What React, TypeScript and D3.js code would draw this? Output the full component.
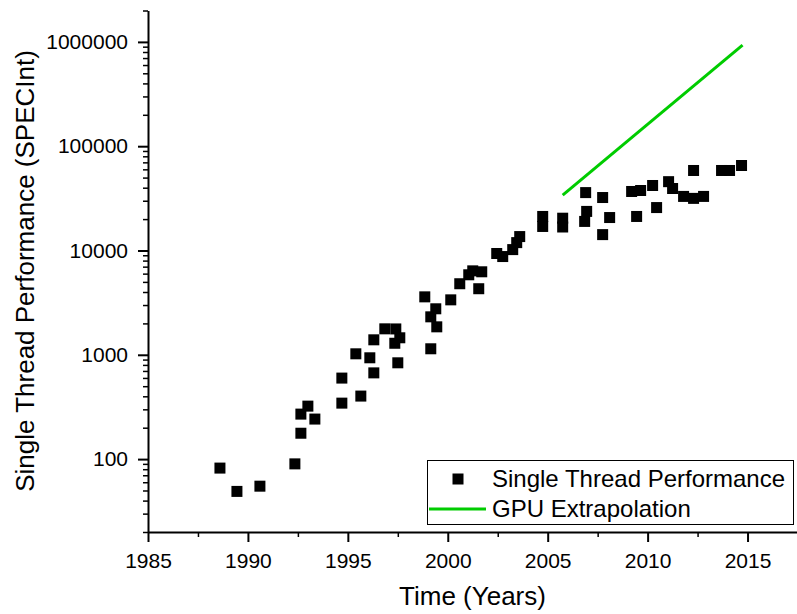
import * as d3 from "d3";
import React, { useEffect, useRef } from "react";

// single thread performance (SPECInt)
const years = [
	1988.6, 1989.45, 1990.6, 1992.35, 1992.65, 1992.65, 1993.0, 1993.35, 1994.7, 1994.7,
	1995.65, 1995.4, 1996.1, 1996.3, 1996.3, 1996.85, 1997.35, 1997.4, 1997.6, 1997.5,
	1998.85, 1999.4, 1999.15, 1999.45, 1999.15, 2000.15, 2000.6, 2001.05, 2001.25, 2001.55,
	2001.7, 2002.45, 2002.75, 2003.25, 2003.45, 2003.6, 2004.75, 2004.75, 2005.75, 2005.75,
	2006.9, 2006.95, 2006.85, 2007.75, 2007.75, 2008.1, 2009.2, 2009.65, 2009.45, 2010.25,
	2010.45, 2011.05, 2011.25, 2011.8, 2012.3, 2012.3, 2012.8, 2013.7, 2014.1, 2014.7,
];
const perf = [
	82, 49, 55, 90, 177, 270, 322, 242, 344, 598,
	402, 1022, 936, 671, 1392, 1774, 1290, 1770, 1456, 838,
	3594, 2761, 2312, 1854, 1142, 3364, 4800, 5850, 6380, 4300,
	6250, 9360, 8750, 10200, 11900, 13600, 21200, 17000, 20400, 16800,
	35900, 23700, 19000, 32200, 14200, 20700, 36800, 37600, 21200, 42000,
	25800, 45700, 39300, 33000, 31600, 58500, 33000, 58500, 58500, 65300,
];

// GPU extrapolation line
const gpuYears = [2005.75, 2014.75];
const gpuPerf = [34000, 930000];

const xTicks = [1985, 1990, 1995, 2000, 2005, 2010, 2015];
const xMinorTicks = [1987.5, 1992.5, 1997.5, 2002.5, 2007.5, 2012.5, 2017.5];
const yTicks = [100, 1000, 10000, 100000, 1000000];

const W = 797,
	H = 614;
const FONT = "'Liberation Sans', Arial, sans-serif";

const App = (): JSX.Element => {
	const svgRef = useRef<SVGSVGElement>(null);

	useEffect(() => {
		const svg = d3.select(svgRef.current);
		const g = svg.append("g");

		const x = d3.scaleLinear().domain([1985, 2017.5]).range([148, 797.5]);
		const y = d3.scaleLog().domain([20, 2e6]).range([532, 10.5]);

		// minor log ticks 2..9 per decade
		const yMinor: number[] = [];
		for (let p = 1; p <= 6; p++)
			for (let m = 2; m <= 9; m++) {
				const v = m * Math.pow(10, p);
				if (v >= 20 && v <= 2e6) yMinor.push(v);
			}

		// Y axis
		const yAx = g
			.append("g")
			.attr("transform", "translate(148,0)")
			.call(
				d3
					.axisLeft(y)
					.tickValues(yTicks)
					.tickSize(10)
					.tickSizeOuter(0)
					.tickPadding(10)
					.tickFormat((d) => String(d))
			);
		yAx.selectAll("text").attr("font-size", 21).attr("font-family", FONT).attr("fill", "#000");
		yAx.selectAll("line").attr("stroke-width", 2);
		yAx.select(".domain").attr("stroke-width", 2);
		g.append("g")
			.attr("transform", "translate(148,0)")
			.call(d3.axisLeft(y).tickValues(yMinor).tickSize(5).tickSizeOuter(0).tickFormat(() => ""))
			.call((a) => a.select(".domain").remove())
			.selectAll("line")
			.attr("stroke-width", 1.5);

		// X axis
		const xAx = g
			.append("g")
			.attr("transform", "translate(0,532)")
			.call(
				d3
					.axisBottom(x)
					.tickValues(xTicks)
					.tickSize(10)
					.tickSizeOuter(0)
					.tickPadding(11)
					.tickFormat((d) => String(d))
			);
		xAx.selectAll("text").attr("font-size", 21).attr("font-family", FONT).attr("fill", "#000");
		xAx.selectAll("line").attr("stroke-width", 2);
		xAx.select(".domain").attr("stroke-width", 2);
		g.append("g")
			.attr("transform", "translate(0,532)")
			.call(d3.axisBottom(x).tickValues(xMinorTicks).tickSize(5).tickSizeOuter(0).tickFormat(() => ""))
			.call((a) => a.select(".domain").remove())
			.selectAll("line")
			.attr("stroke-width", 1.5);

		// axis titles
		g.append("text")
			.attr("x", 472.5)
			.attr("y", 605)
			.attr("text-anchor", "middle")
			.attr("font-family", FONT)
			.attr("font-size", 26)
			.text("Time (Years)");
		g.append("text")
			.attr("transform", "translate(34,271) rotate(-90)")
			.attr("text-anchor", "middle")
			.attr("font-family", FONT)
			.attr("font-size", 26)
			.text("Single Thread Performance (SPECInt)");

		// GPU extrapolation
		const line = d3
			.line<number>()
			.x((d) => x(d))
			.y((_, i) => y(gpuPerf[i]));
		g.append("path")
			.attr("d", line(gpuYears))
			.attr("fill", "none")
			.attr("stroke", "#00cc00")
			.attr("stroke-width", 3);

		// points
		const sq = 11;
		g.selectAll("rect.pt")
			.data(years)
			.join("rect")
			.attr("class", "pt")
			.attr("x", (d) => x(d) - sq / 2)
			.attr("y", (_, i) => y(perf[i]) - sq / 2)
			.attr("width", sq)
			.attr("height", sq)
			.attr("fill", "#000");

		// legend
		const lg = g.append("g");
		lg.append("rect")
			.attr("x", 427.5)
			.attr("y", 460.5)
			.attr("width", 366)
			.attr("height", 64)
			.attr("fill", "#fff")
			.attr("stroke", "#000")
			.attr("stroke-width", 1);
		lg.append("rect").attr("x", 458 - sq / 2).attr("y", 479 - sq / 2).attr("width", sq).attr("height", sq);
		lg.append("line")
			.attr("x1", 429)
			.attr("x2", 486)
			.attr("y1", 509)
			.attr("y2", 509)
			.attr("stroke", "#00cc00")
			.attr("stroke-width", 3);
		lg.append("text")
			.attr("x", 492)
			.attr("y", 479)
			.attr("dy", "0.35em")
			.attr("font-family", FONT)
			.attr("font-size", 24)
			.text("Single Thread Performance");
		lg.append("text")
			.attr("x", 492)
			.attr("y", 509)
			.attr("dy", "0.35em")
			.attr("font-family", FONT)
			.attr("font-size", 24)
			.text("GPU Extrapolation");

		return () => {
			g.remove();
		};
	}, []);

	return (
		<svg
			ref={svgRef}
			width={W}
			height={H}
			style={{ position: "absolute", left: 0, top: 0, background: "#fff" }}
		/>
	);
};

export default App;
